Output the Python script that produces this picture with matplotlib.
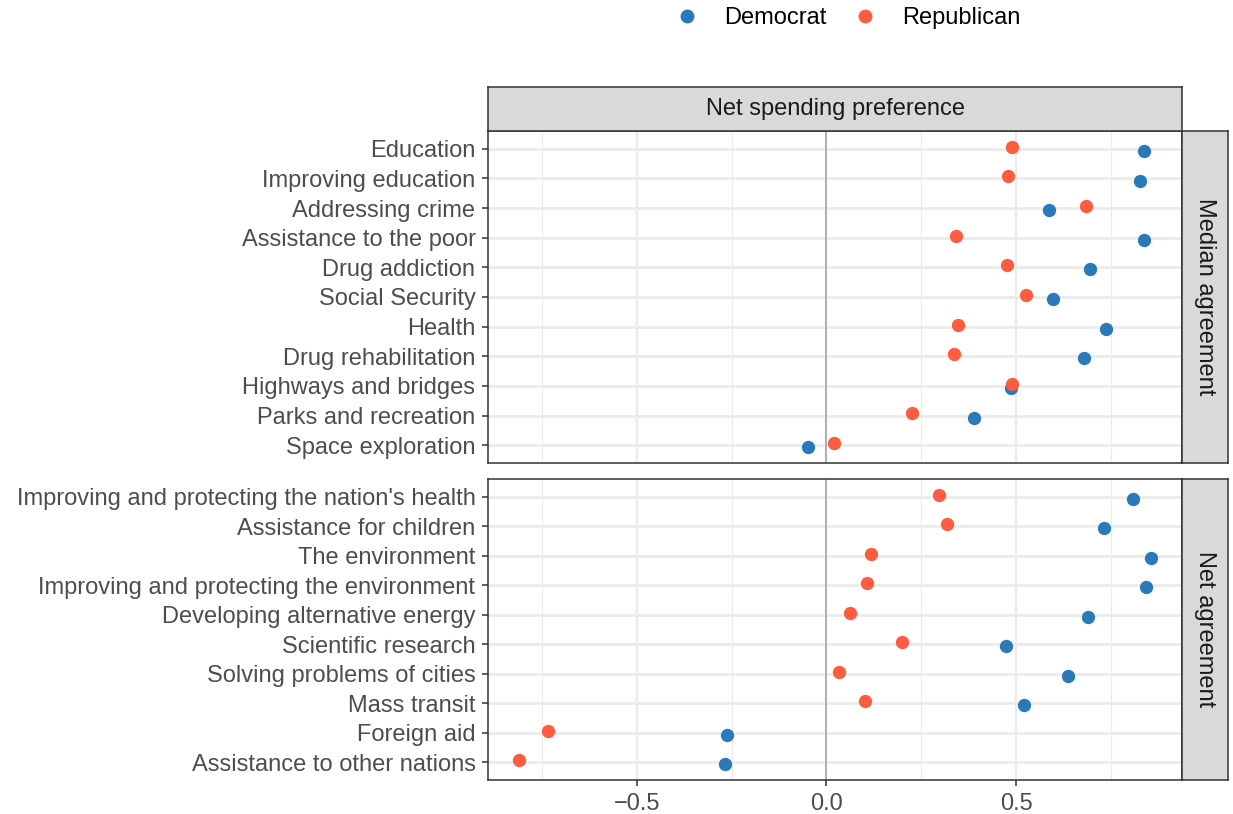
import numpy as np
import matplotlib
matplotlib.use("Agg")
import matplotlib.pyplot as plt
from matplotlib.lines import Line2D

plt.rcParams['font.family'] = ['Liberation Sans', 'DejaVu Sans']

# --- data ---
median_items = ["Education", "Improving education", "Addressing crime",
                "Assistance to the poor", "Drug addiction", "Social Security",
                "Health", "Drug rehabilitation", "Highways and bridges",
                "Parks and recreation", "Space exploration"]
median_dem = [0.837, 0.827, 0.587, 0.837, 0.694, 0.596, 0.737, 0.679, 0.486, 0.389, -0.048]
median_rep = [0.490, 0.479, 0.683, 0.341, 0.475, 0.525, 0.346, 0.336, 0.489, 0.225, 0.019]

net_items = ["Improving and protecting the nation's health", "Assistance for children",
             "The environment", "Improving and protecting the environment",
             "Developing alternative energy", "Scientific research",
             "Solving problems of cities", "Mass transit", "Foreign aid",
             "Assistance to other nations"]
net_dem = [0.807, 0.732, 0.854, 0.841, 0.688, 0.472, 0.636, 0.520, -0.261, -0.268]
net_rep = [0.297, 0.317, 0.117, 0.107, 0.063, 0.199, 0.033, 0.102, -0.735, -0.809]

facet_labels = ["Median agreement", "Net agreement"]
col_label = "Net spending preference"
party_labels = ["Democrat", "Republican"]
x_ticks = [-0.5, 0.0, 0.5]
x_ticklabels = ["\u22120.5", "0.0", "0.5"]

dem_col = '#2a7ab9'
rep_col = '#fe5c41'
border = '#333333'
grid_col = '#ebebeb'
tick_txt = '#4d4d4d'
fs = 17

W, H = 1233, 814
fig = plt.figure(figsize=(W / 100, H / 100), dpi=100)

def fx(px):
    return px / W

def fy(py):
    return 1 - py / H

left, right = 488, 1182
panels = [(131, 463), (479, 780)]
xlim = (-0.892, 0.937)

groups = [(median_items, median_dem, median_rep), (net_items, net_dem, net_rep)]
axes = []
for (top, bot), (items, dem, rep), flab in zip(panels, groups, facet_labels):
    ax = fig.add_axes([fx(left), fy(bot), fx(right - left), (bot - top) / H])
    n = len(items)
    y = np.arange(n)
    ax.set_xlim(*xlim)
    ax.set_ylim(n - 1 + 0.6, -0.6)
    # grid
    for gx in [-0.75, -0.25, 0.25, 0.75]:
        ax.axvline(gx, color=grid_col, lw=0.8, zorder=0)
    for gx in x_ticks:
        ax.axvline(gx, color=grid_col, lw=1.6, zorder=0)
    for gy in y:
        ax.axhline(gy, color=grid_col, lw=2.0, zorder=0)
    ax.axvline(0, color='#a6a6a6', lw=1.2, zorder=1)
    ax.scatter(dem, y + 0.07, s=92, color=dem_col, lw=0, zorder=3)
    ax.scatter(rep, y - 0.07, s=92, color=rep_col, lw=0, zorder=3)
    ax.set_yticks(y)
    ax.set_yticklabels(items, fontsize=fs, color=tick_txt)
    ax.set_xticks(x_ticks)
    ax.tick_params(axis='both', length=4.5, width=1.1, color=border, pad=4.5)
    for sp in ax.spines.values():
        sp.set_color(border)
        sp.set_linewidth(1.1)
    # right facet strip
    sax = fig.add_axes([fx(right), fy(bot), fx(1228 - right), (bot - top) / H])
    sax.set_facecolor('#d9d9d9')
    sax.set_xticks([])
    sax.set_yticks([])
    for sp in sax.spines.values():
        sp.set_color(border)
        sp.set_linewidth(1.1)
    sax.text(0.5, 0.5, flab, rotation=-90, ha='center', va='center',
             fontsize=fs, color='#1a1a1a', transform=sax.transAxes)
    axes.append(ax)

axes[0].set_xticklabels([])
axes[0].tick_params(axis='x', length=0)
axes[1].set_xticklabels(x_ticklabels, fontsize=fs, color=tick_txt)

# top strip
tax = fig.add_axes([fx(left), fy(131), fx(right - left), 44 / H])
tax.set_facecolor('#d9d9d9')
tax.set_xticks([])
tax.set_yticks([])
for sp in tax.spines.values():
    sp.set_color(border)
    sp.set_linewidth(1.1)
tax.text(0.5, 0.5, col_label, ha='center', va='center', fontsize=fs,
         color='#1a1a1a', transform=tax.transAxes)

handles = [Line2D([], [], marker='o', ls='', color=dem_col, markersize=10, markeredgewidth=0),
           Line2D([], [], marker='o', ls='', color=rep_col, markersize=10, markeredgewidth=0)]
fig.legend(handles, party_labels, loc='center', bbox_to_anchor=(fx(842), fy(18)),
           ncol=2, frameon=False, fontsize=fs, handletextpad=0.57, columnspacing=0.64,
           borderpad=0.2)

fig.savefig('out.png', dpi=100, facecolor='white')
